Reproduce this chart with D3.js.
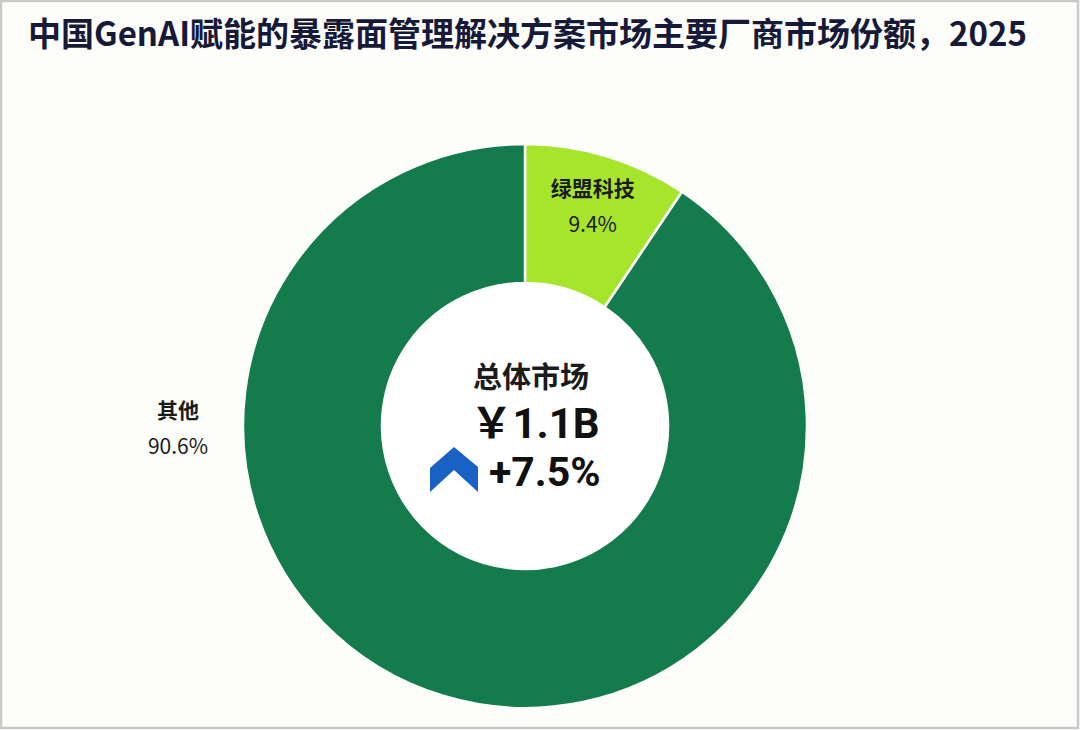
<!DOCTYPE html>
<html>
<head>
<meta charset="utf-8">
<script src="https://cdn.jsdelivr.net/npm/d3@7"></script>
<style>
  html, body { margin: 0; padding: 0; background: #fff; }
  svg { display: block; }
</style>
</head>
<body>
<script>
// data
var vendors = ["绿盟科技", "其他"];
var shares = [9.4, 90.6];
var totalLabel = "总体市场";
var totalValue = "￥1.1B";
var growth = "+7.5%";
var title = "中国GenAI赋能的暴露面管理解决方案市场主要厂商市场份额，2025";

var width = 1080, height = 730,
    cx = 525, cy = 426,
    outerR = 282, innerR = 143;

var font = "'Noto Sans CJK SC', 'Noto Sans', sans-serif";
var numFont = "Roboto, 'Noto Sans CJK SC', sans-serif";

var svg = d3.select("body").append("svg")
    .attr("width", width)
    .attr("height", height);

// background + frame
svg.append("rect")
    .attr("x", 1).attr("y", 1)
    .attr("width", width - 3).attr("height", height - 3)
    .attr("fill", "#fdfdfa")
    .attr("stroke", "#c9c9c9")
    .attr("stroke-width", 2.5);

svg.append("text")
    .attr("x", 28)
    .attr("y", 46)
    .attr("fill", "#161a38")
    .style("font-family", font)
    .style("font-size", "33px")
    .style("font-weight", 700)
    .text(title);

var colors = d3.scaleOrdinal()
    .domain(vendors)
    .range(["#a6e52c", "#137b4c"]);

var pie = d3.pie().sort(null).value(function(d){ return d; });
var arcs = pie(shares);

var arc = d3.arc().innerRadius(innerR).outerRadius(outerR);

var g = svg.append("g").attr("transform", "translate(" + cx + "," + cy + ")");

g.selectAll(".slice")
    .data(arcs)
    .enter()
    .append("path")
    .attr("class", "slice")
    .attr("d", arc)
    .attr("fill", function(d, i){ return colors(vendors[i]); })
    .attr("stroke", "#ffffff")
    .attr("stroke-width", 2.5);

// slice labels
var labelArc = d3.arc().innerRadius(innerR + 40).outerRadius(outerR);

arcs.forEach(function(d, i){
  var pos;
  if (i === 0) {
    pos = labelArc.centroid(d);
  } else {
    // the big slice is labelled outside, on the left
    pos = [-(outerR + 65), 0];
  }
  var t = g.append("text")
      .attr("text-anchor", "middle")
      .attr("fill", "#1b1b1b")
      .style("font-family", font)
      .style("font-size", "21px");
  t.append("tspan")
      .attr("x", pos[0]).attr("y", pos[1] - 8)
      .style("font-weight", 700)
      .text(vendors[i]);
  t.append("tspan")
      .attr("x", pos[0]).attr("y", pos[1] + 28)
      .text(d3.format(".1f")(shares[i]) + "%");
});

// centre
g.append("circle").attr("r", innerR - 1).attr("fill", "#ffffff");

g.append("text")
    .attr("text-anchor", "middle")
    .attr("x", 6).attr("y", -38)
    .attr("fill", "#1b1b1b")
    .style("font-family", font)
    .style("font-size", "29px")
    .style("font-weight", 700)
    .text(totalLabel);

g.append("text")
    .attr("text-anchor", "middle")
    .attr("x", 10).attr("y", 12)
    .attr("fill", "#111")
    .style("font-family", numFont)
    .style("font-size", "42px")
    .style("font-weight", 700)
    .text(totalValue);

g.append("text")
    .attr("text-anchor", "start")
    .attr("x", -36).attr("y", 60)
    .attr("fill", "#111")
    .style("font-family", numFont)
    .style("font-size", "41px")
    .style("font-weight", 700)
    .text(growth);

// up chevron
var chev = [[-71, 21], [-47, 41], [-47, 66], [-71, 44], [-95, 66], [-95, 42]];
g.append("path")
    .attr("d", d3.line()(chev) + "Z")
    .attr("fill", "#1862c6");
</script>
</body>
</html>
